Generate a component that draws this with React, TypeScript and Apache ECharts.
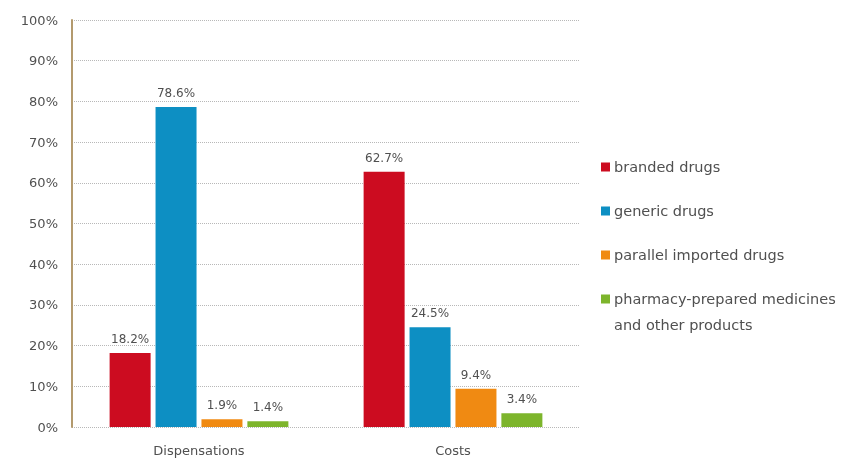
import React, { useEffect, useRef } from "react";
import * as echarts from "echarts";

const categories = ["Dispensations", "Costs"];
const seriesNames = [
  "branded drugs",
  "generic drugs",
  "parallel imported drugs",
  "pharmacy-prepared medicines and other products",
];
const branded = [18.2, 62.7];
const generic = [78.6, 24.5];
const parallel = [1.9, 9.4];
const pharmacy = [1.4, 3.4];
const yTicks = [0, 10, 20, 30, 40, 50, 60, 70, 80, 90, 100];
const colors = ["#cc0c20", "#0d8fc3", "#f08a12", "#7db52c"];

const FONT = "DejaVu Sans";
const TEXT = "#505050";

export default function App() {
  const ref = useRef<HTMLDivElement>(null);
  useEffect(() => {
    if (!ref.current) return;
    const chart = echarts.init(ref.current, undefined, { renderer: "svg" });
    const values = [branded, generic, parallel, pharmacy];
    chart.setOption({
      animation: false,
      textStyle: { fontFamily: FONT },
      grid: { left: 72, right: 272, top: 20, bottom: 35, containLabel: false },
      legend: {
        orient: "vertical",
        left: 601,
        top: 158,
        padding: 0,
        itemWidth: 9,
        itemHeight: 9,
        itemGap: 26,
        icon: "rect",
        data: seriesNames,
        formatter: (name: string) =>
          name.startsWith("pharmacy") ? "pharmacy-prepared medicines" : name,
        textStyle: { fontFamily: FONT, fontSize: 14.5, color: TEXT, lineHeight: 18, padding: [0, 0, 0, -1] },
      },
      graphic: [
        {
          type: "text",
          left: 614,
          top: 317,
          style: { text: "and other products", fontFamily: FONT, fontSize: 14.5, fill: TEXT },
        },
      ],
      xAxis: {
        type: "category",
        data: categories,
        axisLine: { show: false },
        axisTick: { show: false },
        axisLabel: { fontFamily: FONT, fontSize: 13, color: TEXT, margin: 17 },
      },
      yAxis: {
        type: "value",
        min: yTicks[0],
        max: yTicks[yTicks.length - 1],
        interval: 10,
        axisLine: { show: true, lineStyle: { color: "#b39a6e", width: 2 } },
        axisTick: { show: false },
        axisLabel: { formatter: "{value}%", fontFamily: FONT, fontSize: 13, color: TEXT, margin: 14 },
        splitLine: { show: true, lineStyle: { type: "dotted", color: "#b8b8b8", width: 1 } },
      },
      series: seriesNames.map((name, i) => ({
        name,
        type: "bar",
        data: values[i],
        barWidth: 41,
        barGap: "12%",
        itemStyle: { color: colors[i] },
        label: {
          show: true,
          position: "top",
          distance: 8,
          formatter: "{c}%",
          fontFamily: FONT,
          fontSize: 12,
          color: TEXT,
        },
      })),
    });
    return () => chart.dispose();
  }, []);
  return (
    <div
      ref={ref}
      style={{ position: "fixed", left: 0, top: 0, width: 852, height: 462 }}
    />
  );
}
